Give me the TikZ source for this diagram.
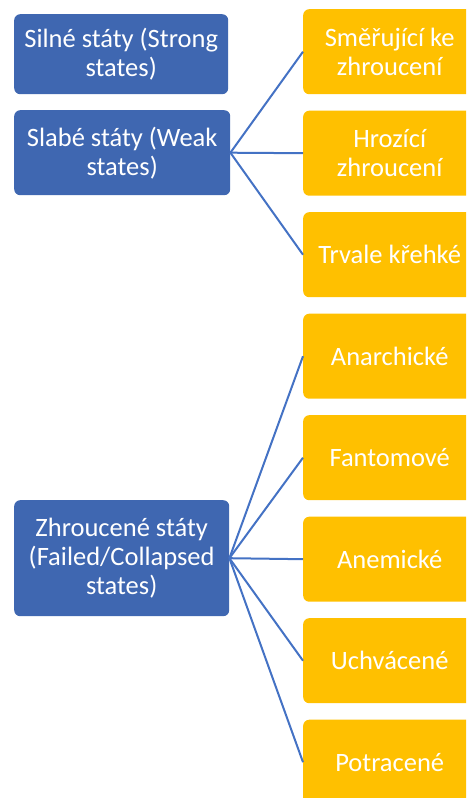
\documentclass[tikz,border=0pt]{standalone}
\usepackage{fontspec}
\setmainfont{Carlito}
\definecolor{bluebox}{HTML}{3F67B1}
\definecolor{orangebox}{HTML}{FFC000}
\definecolor{linecol}{HTML}{4472C4}
\begin{document}
\begin{tikzpicture}[x=1pt,y=-1pt,
  box/.style={rounded corners=6pt, text=white, font=\fontsize{26.5}{29}\selectfont,
    align=center, inner sep=0pt, anchor=north west},
  parent/.style={box, fill=bluebox},
  child/.style={box, fill=orangebox, minimum width=173pt, minimum height=85pt},
  conn/.style={draw=linecol, line width=2pt}]
\useasboundingbox (0,0) rectangle (466,798);
\clip (0,0) rectangle (466,798);
\node[parent, minimum width=214pt, minimum height=80pt] (b1) at (14,14) {Silné státy (Strong\\states)};
\node[parent, minimum width=216pt, minimum height=85pt] (b2) at (14,110) {Slabé státy (Weak\\states)};
\node[parent, minimum width=215pt, minimum height=116pt] (b3) at (14,500) {Zhroucené státy\\(Failed/Collapsed\\states)};
\node[child] (o1) at (303,9) {Směřující ke\\zhroucení};
\node[child] (o2) at (303,110.5) {Hrozící\\zhroucení};
\node[child] (o3) at (303,212) {Trvale křehké};
\node[child] (o4) at (303,313.5) {Anarchické};
\node[child] (o5) at (303,415) {Fantomové};
\node[child] (o6) at (303,516.5) {Anemické};
\node[child] (o7) at (303,618) {Uchvácené};
\node[child] (o8) at (303,719.5) {Potracené};
\foreach \o in {o1,o2,o3} \draw[conn] (b2.east) -- (\o.west);
\foreach \o in {o4,o5,o6,o7,o8} \draw[conn] (b3.east) -- (\o.west);
\end{tikzpicture}
\end{document}
